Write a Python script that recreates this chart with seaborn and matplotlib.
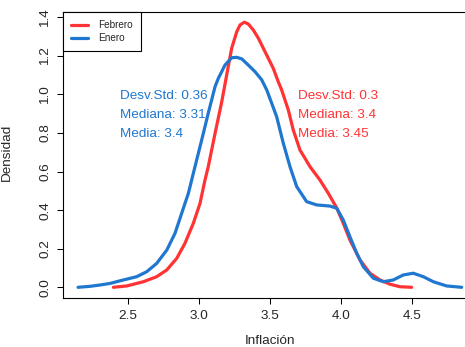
import pandas as pd
import matplotlib
matplotlib.use('Agg')
import matplotlib.pyplot as plt
import seaborn as sns

# Density curves
enero_x = [2.148, 2.232, 2.303, 2.373, 2.467, 2.561, 2.632, 2.702, 2.773, 2.831,
           2.878, 2.925, 2.960, 3.019, 3.065, 3.113, 3.136, 3.183, 3.230, 3.266,
           3.301, 3.347, 3.394, 3.442, 3.477, 3.512, 3.547, 3.594, 3.641, 3.688,
           3.758, 3.829, 3.923, 3.970, 4.016, 4.063, 4.111, 4.157, 4.228, 4.298,
           4.368, 4.439, 4.509, 4.580, 4.650, 4.744, 4.850]
enero_y = [0.000, 0.005, 0.012, 0.020, 0.038, 0.055, 0.081, 0.124, 0.193, 0.280,
           0.384, 0.487, 0.591, 0.764, 0.902, 1.040, 1.083, 1.152, 1.190, 1.192,
           1.184, 1.152, 1.118, 1.075, 1.023, 0.954, 0.884, 0.746, 0.625, 0.522,
           0.444, 0.427, 0.421, 0.410, 0.349, 0.262, 0.176, 0.107, 0.047, 0.029,
           0.038, 0.064, 0.073, 0.055, 0.029, 0.007, 0.000]

febrero_x = [2.397, 2.491, 2.608, 2.702, 2.773, 2.843, 2.901, 2.960, 3.007, 3.042,
             3.065, 3.113, 3.160, 3.195, 3.230, 3.266, 3.289, 3.319, 3.347, 3.382,
             3.418, 3.453, 3.488, 3.523, 3.558, 3.582, 3.629, 3.664, 3.711, 3.782,
             3.852, 3.911, 3.970, 4.016, 4.063, 4.134, 4.204, 4.275, 4.345, 4.415,
             4.498]
febrero_y = [0.000, 0.007, 0.029, 0.055, 0.090, 0.150, 0.228, 0.332, 0.435, 0.556,
             0.625, 0.798, 0.961, 1.101, 1.239, 1.325, 1.360, 1.374, 1.365, 1.334,
             1.291, 1.239, 1.187, 1.135, 1.066, 1.023, 0.919, 0.815, 0.712, 0.625,
             0.556, 0.487, 0.411, 0.332, 0.245, 0.142, 0.073, 0.038, 0.016, 0.003,
             0.000]

meses = ['Febrero', 'Enero']
colores = {'Febrero': '#FF3333', 'Enero': '#1F77D0'}
stats = {
    'Enero': ['Desv.Std: 0.36', 'Mediana: 3.31', 'Media: 3.4'],
    'Febrero': ['Desv.Std: 0.3', 'Mediana: 3.4', 'Media: 3.45'],
}
stats_x = {'Enero': 2.44, 'Febrero': 3.70}
stats_y = [0.993, 0.893, 0.796]

df = pd.concat([
    pd.DataFrame({'x': febrero_x, 'y': febrero_y, 'mes': 'Febrero'}),
    pd.DataFrame({'x': enero_x, 'y': enero_y, 'mes': 'Enero'}),
])

sns.set_style('white')
plt.rcParams['font.family'] = ['Liberation Sans', 'DejaVu Sans']
fs = 9.7

fig = plt.figure(figsize=(4.65, 3.47), dpi=100)
ax = fig.add_axes([63 / 465, 48.7 / 347, 414 / 465, 286.3 / 347])

sns.lineplot(data=df, x='x', y='y', hue='mes', hue_order=meses, palette=colores,
             estimator=None, sort=False, linewidth=2.3, ax=ax)
for line in ax.get_lines():
    line.set_solid_joinstyle('round')
    line.set_solid_capstyle('round')

# text with the summary stats
for mes in meses:
    for txt, yy in zip(stats[mes], stats_y):
        ax.text(stats_x[mes], yy, txt, color=colores[mes], fontsize=fs,
                ha='left', va='center')

ax.set_xlim(2.042, 4.958)
ax.set_ylim(-0.057, 1.427)
ax.set_xticks([2.5, 3.0, 3.5, 4.0, 4.5])
ax.set_xticklabels(['2.5', '3.0', '3.5', '4.0', '4.5'])
ax.set_yticks([0.0, 0.2, 0.4, 0.6, 0.8, 1.0, 1.2, 1.4])
ax.set_yticklabels(['0.0', '0.2', '0.4', '0.6', '0.8', '1.0', '1.2', '1.4'],
                   rotation=90, va='center')
ax.tick_params(axis='both', direction='out', length=4.3, width=0.75,
               color='black', labelsize=fs, pad=4, left=True, bottom=True)

for s in ax.spines.values():
    s.set_color('black')
    s.set_linewidth(0.8)

ax.set_xlabel('Inflación', fontsize=fs)
ax.set_ylabel('Densidad', fontsize=fs)
ax.xaxis.set_label_coords(207 / 414, -0.128)
ax.yaxis.set_label_coords(-0.121, 0.51)

leg = ax.legend(loc='upper left', bbox_to_anchor=(0, 1), borderaxespad=0,
                fontsize=7.2, frameon=True, fancybox=False, framealpha=1,
                edgecolor='black', handlelength=1.7, handletextpad=1.0,
                labelspacing=0.3, borderpad=0.8, title=None)
leg.get_frame().set_linewidth(0.8)
for line in leg.get_lines():
    line.set_linewidth(2.3)

fig.savefig('out.png', dpi=100)
